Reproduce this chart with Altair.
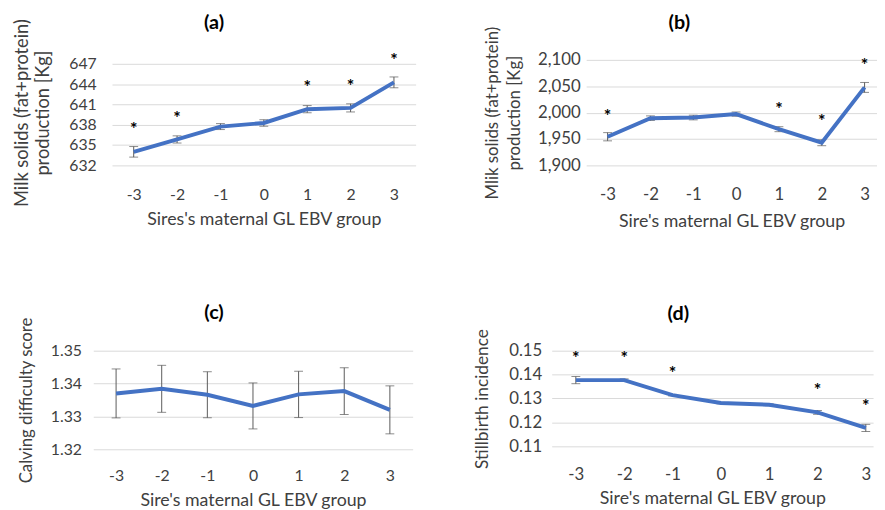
import altair as alt
import pandas as pd

groups = [-3, -2, -1, 0, 1, 2, 3]

a_mean = [634.0, 635.83, 637.73, 638.26, 640.30, 640.49, 644.26]
a_se = [0.78, 0.53, 0.44, 0.48, 0.53, 0.60, 0.80]
a_star_groups = [-3, -2, 1, 2, 3]
a_star_y = [637.87, 639.57, 644.19, 644.33, 648.06]

b_mean = [1954.3, 1989.4, 1990.7, 1997.2, 1968.6, 1942.9, 2047.8]
b_se = [7.8, 4.4, 4.4, 4.0, 4.7, 5.6, 9.4]
b_star_groups = [-3, 1, 2, 3]
b_star_y = [2001.5, 2014.0, 1991.0, 2096.8]

c_mean = [1.3370, 1.3384, 1.3366, 1.3332, 1.3367, 1.3377, 1.3320]
c_se = [0.00745, 0.00715, 0.0070, 0.0070, 0.00705, 0.0071, 0.0073]
c_star_groups = []
c_star_y = []

d_mean = [0.1377, 0.1377, 0.1314, 0.1281, 0.1274, 0.1242, 0.1177]
d_se = [0.0015, 0.0005, 0.0003, 0.0003, 0.0004, 0.0008, 0.0015]
d_star_groups = [-3, -2, -1, 2, 3]
d_star_y = [0.1485, 0.1485, 0.1423, 0.1351, 0.1285]

a_ticks = [632, 635, 638, 641, 644, 647]
b_ticks = [1900, 1950, 2000, 2050, 2100]
c_ticks = [1.32, 1.33, 1.34, 1.35]
d_ticks = [0.11, 0.12, 0.13, 0.14, 0.15]

FONT = "Lato"
TXT = "#404040"
LINE = "#4472C4"
ERR = "#595959"


def panel(title, mean, se, star_g, star_y, xdom, ydom, yticks, yfmt, width, height,
          ytitle, xtitle, lab_size, ylabpad, ytitlepad, ylh, ytitle_size,
          xlabpad, xtitlepad, title_x, title_pad, ext=50):
    df = pd.DataFrame({
        "g": groups,
        "m": mean,
        "lo": [m - s for m, s in zip(mean, se)],
        "hi": [m + s for m, s in zip(mean, se)],
    })
    xscale = alt.Scale(domain=xdom, nice=False, zero=False)
    yscale = alt.Scale(domain=ydom, nice=False, zero=False)
    xaxis = alt.Axis(values=groups, labelExpr="'' + datum.value", grid=False, domain=False,
                     ticks=False, tickSize=0, labelPadding=xlabpad, labelFlush=False,
                     title=xtitle, titlePadding=xtitlepad, labelFontSize=lab_size,
                     titleFontSize=18)
    yaxis = alt.Axis(values=yticks, format=yfmt, grid=True, domain=False, ticks=False,
                     tickSize=0, labelPadding=ylabpad, labelFlush=False,
                     minExtent=ext, maxExtent=ext,
                     title=ytitle, titlePadding=ytitlepad, titleLineHeight=ylh,
                     labelFontSize=lab_size, titleFontSize=ytitle_size)
    X = alt.X("g:Q", scale=xscale, axis=xaxis)
    base = alt.Chart(df)
    rule = base.mark_rule(color=ERR, strokeWidth=1).encode(
        x=X, y=alt.Y("lo:Q", scale=yscale, axis=yaxis), y2="hi:Q")
    cap_lo = base.mark_tick(orient="horizontal", size=9, thickness=1, color=ERR).encode(
        x=X, y=alt.Y("lo:Q", scale=yscale, axis=yaxis))
    cap_hi = base.mark_tick(orient="horizontal", size=9, thickness=1, color=ERR).encode(
        x=X, y=alt.Y("hi:Q", scale=yscale, axis=yaxis))
    line = base.mark_line(color=LINE, strokeWidth=4).encode(
        x=X, y=alt.Y("m:Q", scale=yscale, axis=yaxis))
    layers = [rule, cap_lo, cap_hi, line]
    if star_g:
        sdf = pd.DataFrame({"g": star_g, "s": star_y})
        stars = alt.Chart(sdf).mark_text(text="*", fontSize=18, fontWeight="bold",
                                         color="#000000", font=FONT, dy=5).encode(
            x=X, y=alt.Y("s:Q", scale=yscale, axis=yaxis))
        layers.append(stars)
    main = alt.layer(*layers)
    # panel title carried by an otherwise empty top axis
    top_axis = alt.Axis(orient="top", labels=False, ticks=False, domain=False, grid=False,
                        title=title, titleX=title_x, titlePadding=title_pad,
                        titleFontSize=20, titleFontWeight="bold", titleColor="black",
                        titleFont=FONT, minExtent=0, maxExtent=0)
    holder = base.mark_point(opacity=0).encode(
        x=alt.X("g:Q", scale=alt.Scale(domain=xdom, nice=False, zero=False), axis=top_axis),
        y=alt.Y("m:Q", scale=yscale, axis=yaxis))
    return alt.layer(main, holder).resolve_scale(x="independent").properties(
        width=width, height=height)


def spacer():
    # tiny empty cell so that the real panels of both rows flow by their full bounds
    return alt.Chart(pd.DataFrame({"v": [0]})).mark_point(opacity=0, size=0).encode(
        x=alt.value(0), y=alt.value(0)).properties(width=1, height=1)


pa = panel("(a)", a_mean, a_se, a_star_groups, a_star_y, [-3.5, 3.5], [632, 647.58],
           a_ticks, "d", 308, 107, ["Milk solids (fat+protein)", "production [Kg]"],
           "Sires's maternal GL EBV group", 16, 16, 10, 22, 18.5, 22, 8, 103, 28)
pb = panel("(b)", b_mean, b_se, b_star_groups, b_star_y, [-3.5, 3.29], [1900, 2100],
           b_ticks, ",d", 295, 107, ["Mlik solids (fat+protein)", "production [Kg]"],
           "Sire's maternal GL EBV group", 17, 6, 13.5, 22, 17, 22, 10, 94, 28)
pc = panel("(c)", c_mean, c_se, c_star_groups, c_star_y, [-3.5, 3.5], [1.32, 1.35],
           c_ticks, ".2f", 324, 100, ["", "Calving difficulty score"],
           "Sire's maternal GL EBV group", 16, 12, 8.5, 5, 17, 19, 8, 122, 29)
pd_ = panel("(d)", d_mean, d_se, d_star_groups, d_star_y, [-3.5, 3.15], [0.11, 0.15],
            d_ticks, ".2f", 326, 97, ["", "Stillbirth incidence"],
            "Sire's maternal GL EBV group", 17, 10, 11.5, 8, 17.5, 21, 7, 128, 28)

chart = alt.concat(
    spacer(), pa, pb, spacer(), pc, pd_, columns=3,
    spacing={"row": 73, "column": 53},
    align={"row": "each", "column": "none"},
).properties(
    padding={"left": -49.5, "top": 1, "right": 0, "bottom": 0}
).configure_view(stroke=None).configure_axis(
    labelFont=FONT, labelColor=TXT, titleFont=FONT,
    titleFontWeight="normal", titleColor=TXT, gridColor="#D9D9D9", gridWidth=1,
)

chart.save("out.html", embed_options={"renderer": "svg", "actions": False})
